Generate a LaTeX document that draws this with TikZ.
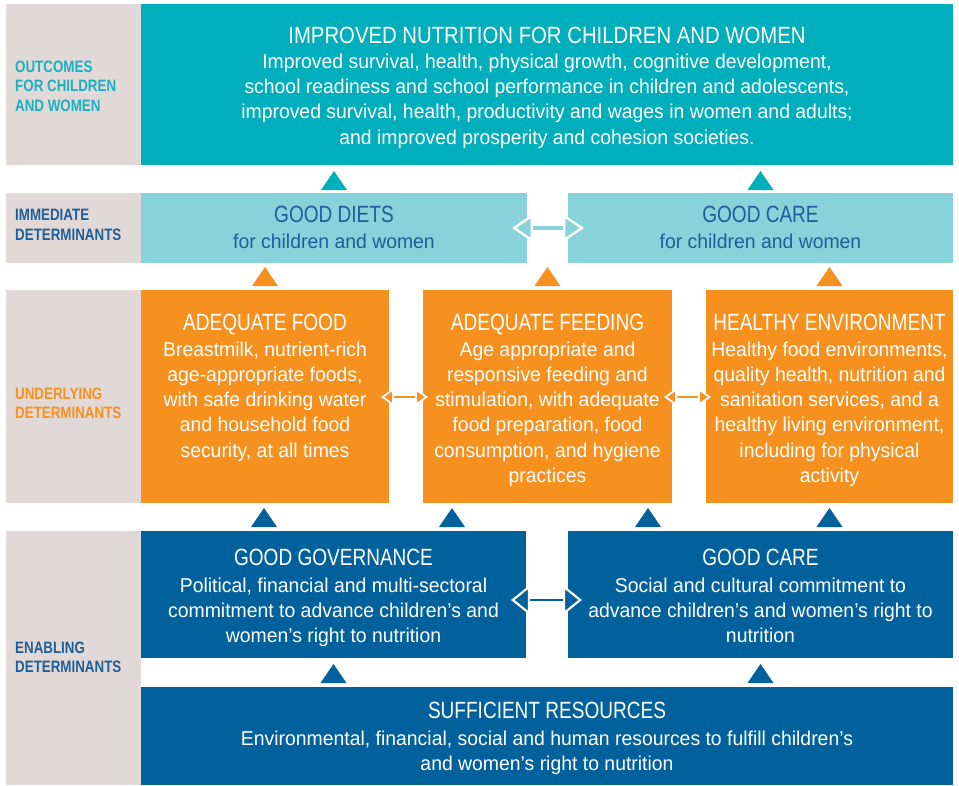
\documentclass[tikz,border=0pt]{standalone}
\usepackage{fontspec}
\setmainfont{Liberation Sans}
\newfontfamily\titlefont{Liberation Sans}[FakeStretch=0.81]
\newfontfamily\bigtitlefont{Liberation Sans}[FakeStretch=0.865]
\newfontfamily\bodyfont{Liberation Sans}[FakeStretch=0.97]
\newfontfamily\labelfont{Liberation Sans}[FakeStretch=0.81]
\usetikzlibrary{arrows.meta}
\definecolor{cteal}{HTML}{00AEBC}
\definecolor{clight}{HTML}{88D2DB}
\definecolor{corange}{HTML}{F6901E}
\definecolor{cblue}{HTML}{00619C}
\definecolor{cgray}{HTML}{E1D9D7}
\definecolor{ctealtxt}{HTML}{1BAFBF}
\definecolor{cdarktxt}{HTML}{1F5E96}
\begin{document}
\begin{tikzpicture}[x=1pt,y=-1pt,
  box/.style={inner sep=0pt, outer sep=0pt, anchor=north west, draw=none},
  ttl/.style={anchor=base, inner sep=0pt, font=\titlefont\fontsize{23.5}{28}\selectfont},
  body/.style={anchor=base, inner sep=0pt, align=center, font=\bodyfont\fontsize{20}{25.3}\selectfont},
  lab/.style={anchor=base west, inner sep=0pt, align=left, font=\labelfont\bfseries\fontsize{16.5}{19.5}\selectfont},
  biarr/.style n args={5}{draw=#1, line width=#4,
    >={Triangle[length=#2, width=#3, fill=#1, color=white, line width=#5]}, <->}
]
\useasboundingbox (0,0) rectangle (959,785);
% left column
\node[box, fill=cgray, minimum width=135pt, minimum height=161pt] (g1) at (6,4) {};
\node[box, fill=cgray, minimum width=135pt, minimum height=70pt] (g2) at (6,193) {};
\node[box, fill=cgray, minimum width=135pt, minimum height=213pt] (g3) at (6,290) {};
\node[box, fill=cgray, minimum width=135pt, minimum height=254pt] (g4) at (6,531) {};
% (base anchor of a multi-line node = baseline of its last line)
\node[lab, text=ctealtxt] (l1) at (15,111) {OUTCOMES\\FOR CHILDREN\\AND WOMEN};
\node[lab, text=cdarktxt] (l2) at (15,240) {IMMEDIATE\\DETERMINANTS};
\node[lab, text=corange] (l3) at (15,418.5) {UNDERLYING\\DETERMINANTS};
\node[lab, text=cdarktxt] (l4) at (15,672.5) {ENABLING\\DETERMINANTS};
% boxes
\node[box, fill=cteal, minimum width=812pt, minimum height=161pt] (out) at (141,4) {};
\node[box, fill=clight, minimum width=386pt, minimum height=70pt] (diets) at (141,193) {};
\node[box, fill=clight, minimum width=385pt, minimum height=70pt] (care) at (568,193) {};
\node[box, fill=corange, minimum width=248pt, minimum height=213pt] (food) at (141,290) {};
\node[box, fill=corange, minimum width=249pt, minimum height=213pt] (feed) at (423,290) {};
\node[box, fill=corange, minimum width=247pt, minimum height=213pt] (env) at (706,290) {};
\node[box, fill=cblue, minimum width=385pt, minimum height=127pt] (gov) at (141,531) {};
\node[box, fill=cblue, minimum width=385pt, minimum height=127pt] (care2) at (568,531) {};
\node[box, fill=cblue, minimum width=812pt, minimum height=98pt] (res) at (141,687) {};
% texts
\node[ttl, text=white, font=\bigtitlefont\fontsize{23.5}{28}\selectfont] (outT) at (547,43) {IMPROVED NUTRITION FOR CHILDREN AND WOMEN};
\node[body, text=white] (outB) at (547,144) {Improved survival, health, physical growth, cognitive development,\\
school readiness and school performance in children and adolescents,\\
improved survival, health, productivity and wages in women and adults;\\
and improved prosperity and cohesion societies.};
\node[ttl, text=cdarktxt] (dietsT) at (334,222) {GOOD DIETS};
\node[body, text=cdarktxt] (dietsB) at (334,248) {for children and women};
\node[ttl, text=cdarktxt] (careT) at (760.5,222) {GOOD CARE};
\node[body, text=cdarktxt] (careB) at (760.5,248) {for children and women};
\node[ttl, text=white] (foodT) at (265,330) {ADEQUATE FOOD};
\node[body, text=white] (foodB) at (265,457.2) {Breastmilk, nutrient-rich\\age-appropriate foods,\\with safe drinking water\\and household food\\security, at all times};
\node[ttl, text=white] (feedT) at (547.5,330) {ADEQUATE FEEDING};
\node[body, text=white] (feedB) at (547.5,482.5) {Age appropriate and\\responsive feeding and\\stimulation, with adequate\\food preparation, food\\consumption, and hygiene\\practices};
\node[ttl, text=white] (envT) at (829.5,330) {HEALTHY ENVIRONMENT};
\node[body, text=white] (envB) at (829.5,482.5) {Healthy food environments,\\quality health, nutrition and\\sanitation services, and a\\healthy living environment,\\including for physical\\activity};
\node[ttl, text=white] (govT) at (333.5,565) {GOOD GOVERNANCE};
\node[body, text=white] (govB) at (333.5,642.6) {Political, financial and multi-sectoral\\commitment to advance children’s and\\women’s right to nutrition};
\node[ttl, text=white] (care2T) at (760.5,565) {GOOD CARE};
\node[body, text=white] (care2B) at (760.5,642.6) {Social and cultural commitment to\\advance children’s and women’s right to\\nutrition};
\node[ttl, text=white] (resT) at (547,718) {SUFFICIENT RESOURCES};
\node[body, text=white] (resB) at (547,770.3) {Environmental, financial, social and human resources to fulfill children’s\\and women’s right to nutrition};
% triangles
\foreach \x/\y/\c in {334/190/cteal, 760.5/190/cteal,
  265/286/corange, 547.5/286/corange, 829.5/286/corange,
  264/527/cblue, 452/527/cblue, 648/527/cblue, 829.5/527/cblue,
  333.5/683/cblue, 760.5/683/cblue}
  \fill[\c] (\x-13,\y) -- (\x+13,\y) -- (\x,\y-19) -- cycle;
% double arrows
\draw[biarr={clight}{21pt}{28pt}{4pt}{2.4pt}] ([xshift=-15pt]diets.east) -- ([xshift=16pt]care.west);
\draw[biarr={corange}{13pt}{18pt}{2.2pt}{1.8pt}] ([xshift=-8pt,yshift=-0.5pt]food.east) -- ([xshift=5pt,yshift=-0.5pt]feed.west);
\draw[biarr={corange}{13pt}{18pt}{2.2pt}{1.8pt}] ([xshift=-8pt,yshift=-0.5pt]feed.east) -- ([xshift=5pt,yshift=-0.5pt]env.west);
\draw[biarr={cblue}{19pt}{30pt}{2.8pt}{2.2pt}] ([xshift=-15pt,yshift=-5.5pt]gov.east) -- ([xshift=14pt,yshift=-5.5pt]care2.west);
\end{tikzpicture}
\end{document}
